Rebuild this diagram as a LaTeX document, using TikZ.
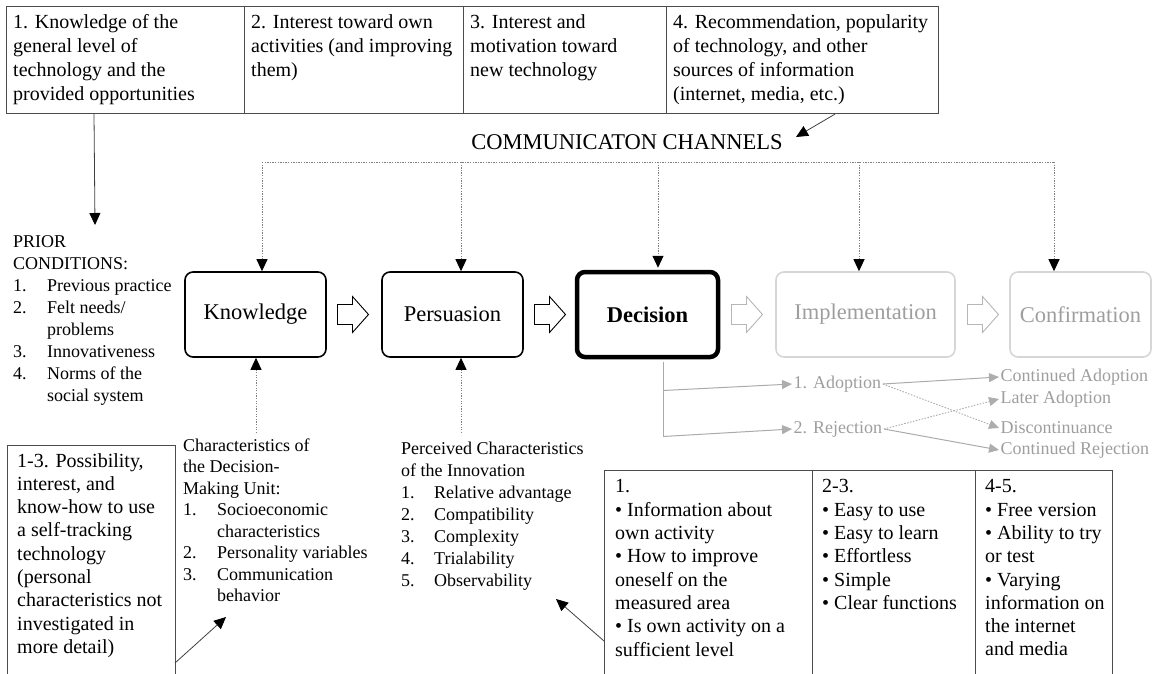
\documentclass[tikz,border=0pt]{standalone}
\usepackage{fontspec}
\setmainfont{Liberation Serif}
\usetikzlibrary{arrows.meta,calc}
\definecolor{boxline}{gray}{0.3}
\definecolor{fadeline}{gray}{0.84}
\definecolor{fadetext}{gray}{0.62}
\definecolor{fadearrow}{gray}{0.68}
\definecolor{dotcol}{gray}{0.5}
\tikzset{
  frame/.style={draw=boxline, line width=1.1pt, inner sep=0pt, anchor=north west},
  txt/.style={anchor=north west, inner sep=0pt, align=left, execute at begin node=\strut},
  bigtext/.style={font=\fontsize{20}{24}\selectfont},
  boxtext/.style={font=\fontsize{20}{23.3}\selectfont},
  listtext/.style={font=\fontsize{18}{22}\selectfont},
  stage/.style={draw, rounded corners=8pt, line width=1.6pt, minimum width=141pt,
    minimum height=85pt, inner sep=0pt, font=\fontsize{22.5}{27}\selectfont},
  faded/.style={draw=fadeline, text=fadetext},
  outc/.style={anchor=west, inner sep=1.5pt, text=fadetext, font=\fontsize{18}{22}\selectfont},
  arr/.style={draw=black!75, line width=0.8pt, -{Triangle[length=12pt,width=11pt,black]}},
  dotarr/.style={draw=dotcol, line width=1pt, dash pattern=on 1.3pt off 1.3pt,
    -{Triangle[length=12pt,width=11pt,black]}},
  dotplain/.style={draw=dotcol, line width=1pt, dash pattern=on 1.3pt off 1.3pt},
  fadearr/.style={draw=fadeline!80!black, line width=1pt,
    -{Triangle[length=10pt,width=9pt,fadearrow]}},
  fadedot/.style={draw=fadeline!80!black, line width=0.9pt, dash pattern=on 1.5pt off 1.5pt,
    -{Triangle[length=10pt,width=9pt,fadearrow]}},
  hollowarrow/.pic={
    \draw[pic actions, line width=0.9pt, line join=miter]
      (-15.5,-10) -- (-0.5,-10) -- (-0.5,-18) -- (15.5,0) -- (-0.5,18) -- (-0.5,10) -- (-15.5,10) -- cycle;}
}
\begin{document}
\begin{tikzpicture}[x=1pt,y=-1pt]
\useasboundingbox (0,0) rectangle (1157,673);
\clip (0,0) rectangle (1157,673);

% ---- factor boxes along the top ----
\node[frame, minimum width=238pt, minimum height=107pt] (b1) at (6,6) {};
\node[frame, minimum width=219pt, minimum height=107pt] (b2) at (244,6) {};
\node[frame, minimum width=203pt, minimum height=107pt] (b3) at (463,6) {};
\node[frame, minimum width=272pt, minimum height=107pt] (b4) at (666,6) {};
\node[txt, bigtext] (t1) at (13,14) {1. Knowledge of the\\general level of\\technology and the\\provided opportunities};
\node[txt, bigtext] (t2) at (251,14) {2. Interest toward own\\activities (and improving\\them)};
\node[txt, bigtext] (t3) at (470,14) {3. Interest and\\motivation toward\\new technology};
\node[txt, bigtext] (t4) at (673,14) {4. Recommendation, popularity\\of technology, and other\\sources of information\\(internet, media, etc.)};

% ---- communication channels ----
\node[font=\fontsize{22.5}{27}\selectfont, inner sep=0pt] (chan) at (627,142) {COMMUNICATON CHANNELS};
\coordinate (b4out) at ($(b4.south west)+(169,0)$);
\coordinate (chtip) at (796,137);
\draw[arr] (b4out) -- (chtip);

% ---- stages of the decision process ----
\node[stage] (know) at (255.5,314.5) {Knowledge};
\node[stage] (pers) at (452.5,314.5) {Persuasion};
\node[stage, line width=4.5pt, font=\fontsize{22.5}{27}\selectfont\bfseries] (dec) at (647.5,314.5) {Decision};
\node[stage, faded, minimum width=179pt] (impl) at (865.5,314.5) {Implementation};
\node[stage, faded] (conf) at (1080.5,314.5) {Confirmation};

\pic[draw=black] at (353,314.5) {hollowarrow};
\pic[draw=black] at (550,314.5) {hollowarrow};
\pic[draw=fadeline!85!black] at (747,314.5) {hollowarrow};
\pic[draw=fadeline!85!black] at (983,314.5) {hollowarrow};

% channel lines down to every stage
\coordinate (ck) at (262,162);
\coordinate (cp) at (461,162);
\coordinate (cd) at (658,162);
\coordinate (ci) at (859,162);
\coordinate (cc) at (1054,162);
\draw[dotplain] (ck) -- (cc);
\draw[dotarr] (ck) -- (ck |- know.north);
\draw[dotarr] (cp) -- (cp |- pers.north);
\draw[dotarr] (cd) -- ($(cd |- dec.north)+(0,-2)$);
\draw[dotarr] (ci) -- (ci |- impl.north);
\draw[dotarr] (cc) -- (cc |- conf.north);

% ---- prior conditions ----
\node[txt, listtext] (prior) at (13,235.5) {PRIOR\\CONDITIONS:\\\makebox[34pt][l]{1.}Previous practice\\\makebox[34pt][l]{2.}Felt needs/\\\hspace*{34pt}problems\\\makebox[34pt][l]{3.}Innovativeness\\\makebox[34pt][l]{4.}Norms of the\\\hspace*{34pt}social system};
\coordinate (b1out) at ($(b1.south west)+(88,0)$);
\coordinate (priortip) at (95,225);
\draw[arr] (b1out) -- (priortip);

% ---- characteristics feeding knowledge and persuasion ----
\node[txt, font=\fontsize{18}{21.5}\selectfont] (unit) at (183,438.5) {Characteristics of\\the Decision-\\Making Unit:\\\makebox[34pt][l]{1.}Socioeconomic\\\hspace*{34pt}characteristics\\\makebox[34pt][l]{2.}Personality variables\\\makebox[34pt][l]{3.}Communication\\\hspace*{34pt}behavior};
\node[txt, listtext] (innov) at (401,442) {Perceived Characteristics\\of the Innovation\\\makebox[33pt][l]{1.}Relative advantage\\\makebox[33pt][l]{2.}Compatibility\\\makebox[33pt][l]{3.}Complexity\\\makebox[33pt][l]{4.}Trialability\\\makebox[33pt][l]{5.}Observability};
\coordinate (ku) at (256,433);
\coordinate (pu) at (461,433);
\draw[dotarr] (ku) -- (ku |- know.south);
\draw[dotarr] (pu) -- (pu |- pers.south);

% ---- outcomes of the decision ----
\node[outc] (ad) at (792,384) {1. Adoption};
\node[outc] (rj) at (792,429) {2. Rejection};
\node[outc] (ca) at (999,377) {Continued Adoption};
\node[outc] (la) at (999,399) {Later Adoption};
\node[outc] (di) at (999,428) {Discontinuance};
\node[outc] (cr) at (999,450) {Continued Rejection};
\coordinate (dtop) at ($(dec.south)+(15.5,2.25)$);
\coordinate (dad) at ($(dtop)+(0,29)$);
\coordinate (drj) at ($(dtop)+(0,75)$);
\draw[draw=fadeline!80!black, line width=1pt] (dtop) -- (drj);
\draw[fadearr] (dad) -- (ad.west);
\draw[fadearr] (drj) -- (rj.west);
\draw[fadearr] (ad.east) -- (ca.west);
\draw[fadedot] (ad.east) -- (di.west);
\draw[fadedot] (rj.east) -- (la.west);
\draw[fadearr] (rj.east) -- (cr.west);

% ---- boxes along the bottom ----
\node[frame, minimum width=168pt, minimum height=240pt] (bl) at (7,445) {};
\node[txt, boxtext] (blt) at (17,453) {1-3. Possibility,\\interest, and\\know-how to use\\a self-tracking\\technology\\(personal\\characteristics not\\investigated in\\more detail)};
\coordinate (blout) at (175,663);
\coordinate (unittip) at (226,617);
\draw[arr] (blout) -- (unittip);

\node[frame, minimum width=208pt, minimum height=220pt] (r1) at (604,470) {};
\node[frame, minimum width=163pt, minimum height=220pt] (r2) at (812,470) {};
\node[frame, minimum width=137pt, minimum height=220pt] (r3) at (975,470) {};
\node[txt, boxtext] (r1t) at (615,479.5) {1.\\\textbullet{} Information about\\own activity\\\textbullet{} How to improve\\oneself on the\\measured area\\\textbullet{} Is own activity on a\\sufficient level};
\node[txt, boxtext] (r2t) at (822,479.5) {2-3.\\\textbullet{} Easy to use\\\textbullet{} Easy to learn\\\textbullet{} Effortless\\\textbullet{} Simple\\\textbullet{} Clear functions};
\node[txt, boxtext] (r3t) at (985,479.5) {4-5.\\\textbullet{} Free version\\\textbullet{} Ability to try\\or test\\\textbullet{} Varying\\information on\\the internet\\and media};
\coordinate (r1out) at (604,641);
\coordinate (innovtip) at (556,599);
\draw[arr] (r1out) -- (innovtip);
\end{tikzpicture}
\end{document}
